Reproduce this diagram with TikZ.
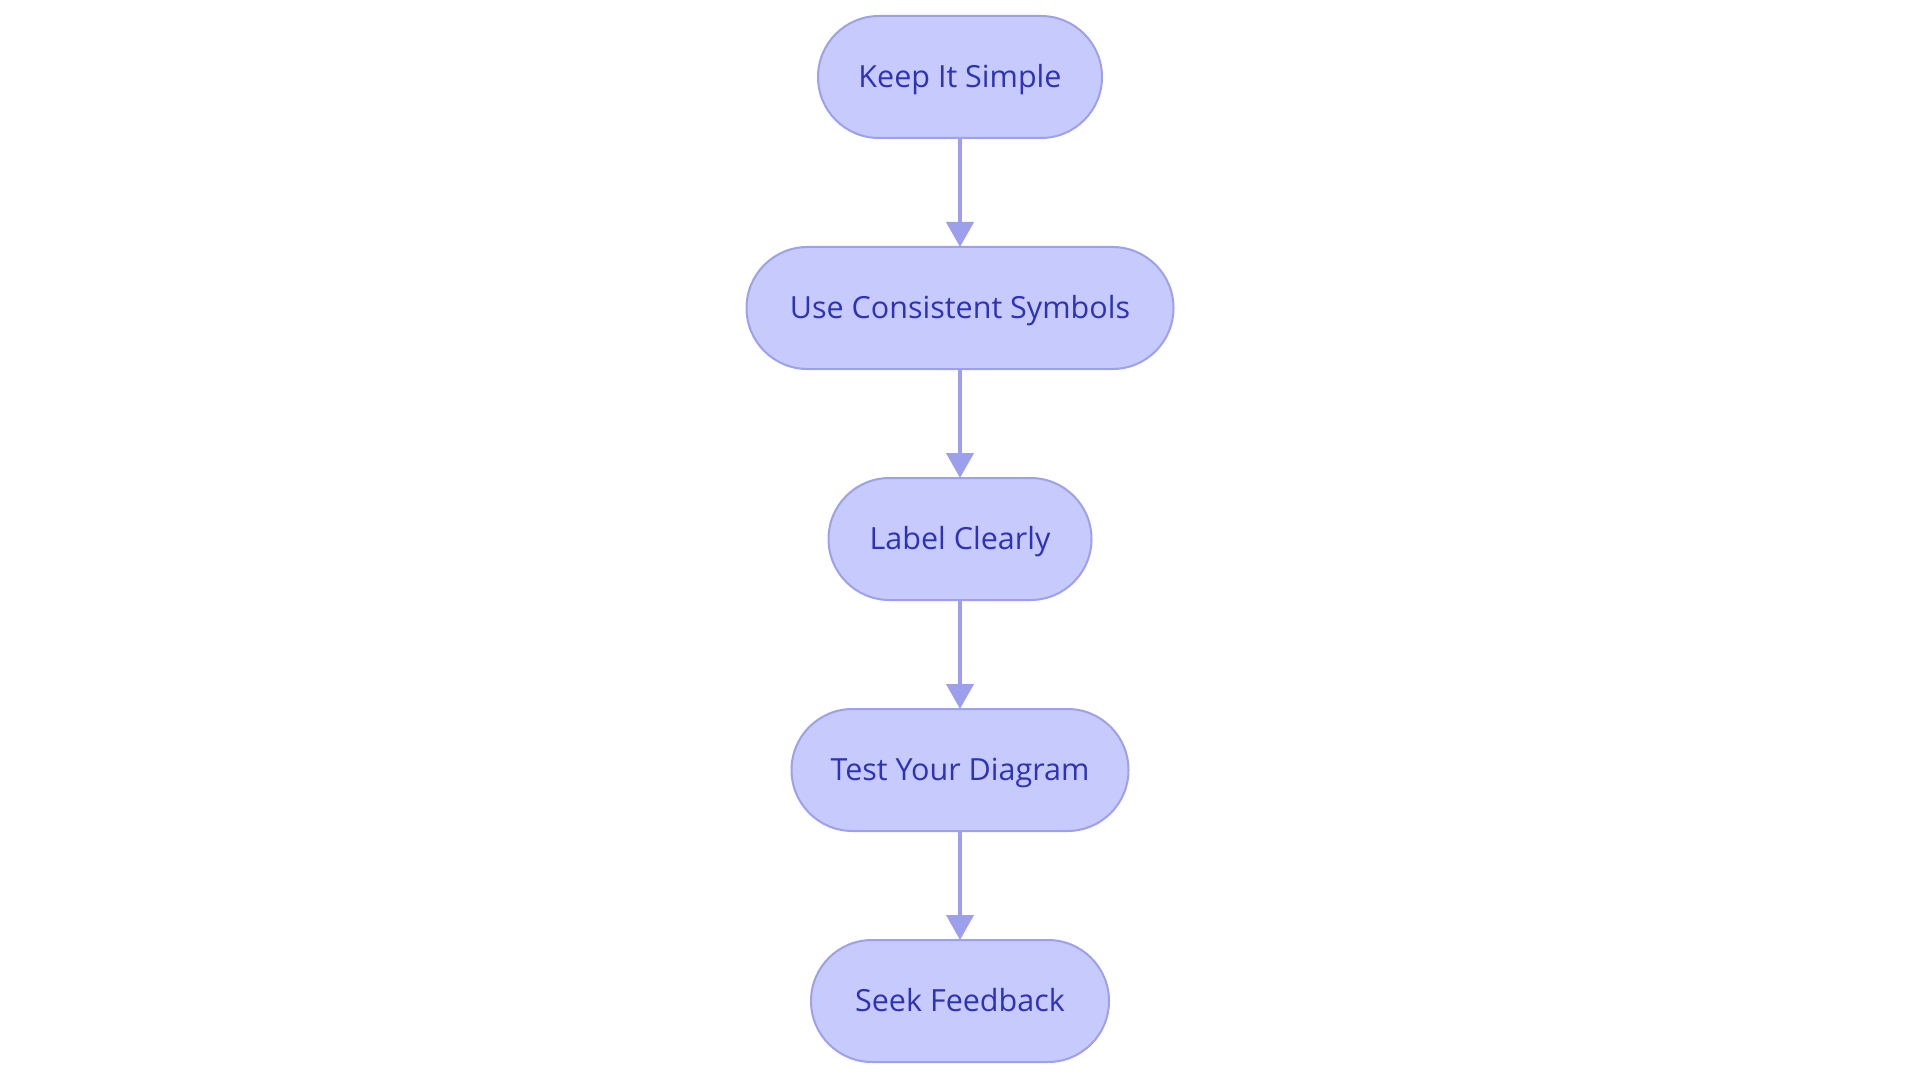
\documentclass[tikz,border=0pt]{standalone}
\usepackage{fontspec}
\setmainfont{Open Sans}
\usetikzlibrary{arrows.meta}
\definecolor{nodefill}{HTML}{C7CAFD}
\definecolor{nodestroke}{HTML}{9DA1EC}
\definecolor{nodetext}{HTML}{2E32B8}
\definecolor{edgecol}{HTML}{9CA0EC}
\begin{document}
\begin{tikzpicture}[x=1pt,y=-1pt,
  stadium/.style={draw=nodestroke, fill=nodefill, line width=2pt, rounded corners=61pt,
    minimum height=122pt, text=nodetext, font=\fontsize{30.5}{36}\selectfont, inner sep=0pt,
    text height=21pt, text depth=0pt},
  flow/.style={draw=edgecol, line width=4pt, -{Triangle[length=25pt,width=27pt]}, shorten >=-1pt}]
\useasboundingbox[fill=white] (0,0) rectangle (1920,1083);
\node[stadium, minimum width=284pt] (a) at (960,77) {Keep It Simple};
\node[stadium, minimum width=427pt] (b) at (960,308) {Use Consistent Symbols};
\node[stadium, minimum width=263pt] (c) at (960,539) {Label Clearly};
\node[stadium, minimum width=337pt] (d) at (960,770) {Test Your Diagram};
\node[stadium, minimum width=298pt] (e) at (960,1001) {Seek Feedback};
\draw[flow] (a) -- (b);
\draw[flow] (b) -- (c);
\draw[flow] (c) -- (d);
\draw[flow] (d) -- (e);
\end{tikzpicture}
\end{document}
